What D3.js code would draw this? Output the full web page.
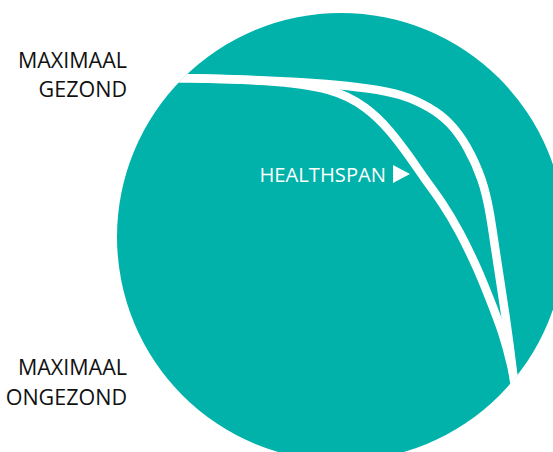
<!DOCTYPE html>
<html>
<head>
<meta charset="utf-8">
<script src="https://cdn.jsdelivr.net/npm/d3@7"></script>
<style>
  html, body { margin: 0; padding: 0; background: #fff; }
</style>
</head>
<body>
<div id="canvas"></div>
<script>
"use strict"

let drawingWidth = 553;
let drawingHeight = 452;

// age (0-100) against health (100 = maximaal gezond, 0 = maximaal ongezond)
let currentAge    = [-5, 0, 27.4, 45.9, 55.9, 62.6, 68.5, 72.4, 78.2, 83.2, 88.2, 92.1, 95.9, 98.5, 99.7];
let currentHealth = [100, 100, 99.3, 96.6, 90.2, 82.5, 73.4, 66.7, 57.9, 48.1, 36.4, 25.3, 14.1, 2.7, -5];
let idealAge      = [-5, 0, 27.4, 45, 55.9, 66.2, 74.4, 80.3, 85.3, 90, 92.1, 93.5, 95, 96.5, 97.9, 98.8, 99.7];
let idealHealth   = [100, 100, 99.3, 98, 96.6, 94.6, 90.2, 85.2, 77.4, 65.7, 54.5, 43.1, 32, 20.9, 9.4, 0.7, -6.7];

let topLabel = ["MAXIMAAL", "GEZOND"];
let bottomLabel = ["MAXIMAAL", "ONGEZOND"];
let spanLabel = "HEALTHSPAN";

let teal = "#00b2aa";

let drawing = d3.select("#canvas")
    .append("svg")
    .attr("width", drawingWidth)
    .attr("height", drawingHeight);

// the big disc
let cx = 341, cy = 237, r = 224;

drawing.append("clipPath")
    .attr("id", "disc")
    .append("circle")
    .attr("cx", cx)
    .attr("cy", cy)
    .attr("r", r);

drawing.append("circle")
    .attr("cx", cx)
    .attr("cy", cy)
    .attr("r", r)
    .attr("fill", teal);

let x = d3.scaleLinear().domain([0, 100]).range([177, 517]);
let y = d3.scaleLinear().domain([0, 100]).range([375, 78]);

let line = d3.line()
    .x(d => x(d[0]))
    .y(d => y(d[1]))
    .curve(d3.curveBasis);

let curves = drawing.append("g").attr("clip-path", "url(#disc)");

curves.append("path")
    .attr("d", line(d3.zip(idealAge, idealHealth)))
    .attr("fill", "none")
    .attr("stroke", "white")
    .attr("stroke-width", 8.5);

curves.append("path")
    .attr("d", line(d3.zip(currentAge, currentHealth)))
    .attr("fill", "none")
    .attr("stroke", "white")
    .attr("stroke-width", 8.5);

// labels on the left
let labelFont = "'Open Sans', 'Liberation Sans', sans-serif";

drawing.append("text")
    .attr("text-anchor", "end")
    .attr("font-family", labelFont)
    .attr("font-size", 21.5)
    .attr("fill", "#111")
    .selectAll("tspan")
    .data(topLabel)
    .join("tspan")
    .attr("x", 127)
    .attr("y", (d, i) => 68 + i * 29)
    .text(d => d);

drawing.append("text")
    .attr("text-anchor", "end")
    .attr("font-family", labelFont)
    .attr("font-size", 21.5)
    .attr("fill", "#111")
    .selectAll("tspan")
    .data(bottomLabel)
    .join("tspan")
    .attr("x", 127)
    .attr("y", (d, i) => 375 + i * 30)
    .text(d => d);

// healthspan label with arrow
drawing.append("text")
    .attr("x", 386)
    .attr("y", 182)
    .attr("text-anchor", "end")
    .attr("font-family", labelFont)
    .attr("font-size", 20.2)
    .attr("fill", "white")
    .text(spanLabel);

drawing.append("polygon")
    .attr("points", "393,165 410,174 393,183")
    .attr("fill", "white");
</script>
</body>
</html>
